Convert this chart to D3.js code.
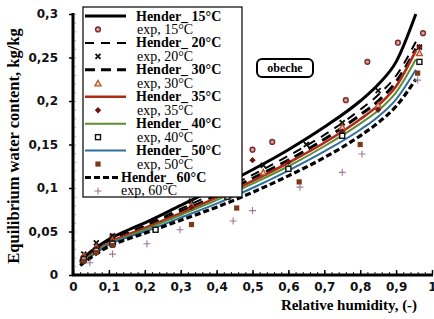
<!DOCTYPE html>
<html><head><meta charset="utf-8">
<script src="https://cdn.jsdelivr.net/npm/d3@7"></script>
<style>
html,body{margin:0;padding:0;background:#fff;}
svg{display:block;}
</style></head>
<body>
<svg id="chart" width="434" height="319"></svg>
<script>
// ---------- data ----------
const rhGrid = [0.02,0.05,0.1,0.15,0.2,0.3,0.4,0.5,0.6,0.7,0.8,0.85,0.9,0.955];
const hender15 = [0.016,0.027,0.041,0.051,0.060,0.080,0.100,0.121,0.144,0.170,0.200,0.219,0.245,0.300];
const hender20 = [0.015,0.025,0.039,0.048,0.057,0.076,0.095,0.115,0.137,0.161,0.190,0.207,0.229,0.268];
const hender30 = [0.014,0.024,0.038,0.047,0.055,0.073,0.091,0.111,0.132,0.156,0.184,0.200,0.222,0.260];
const hender35 = [0.014,0.023,0.037,0.046,0.054,0.071,0.089,0.108,0.129,0.152,0.179,0.195,0.217,0.258];
const hender40 = [0.013,0.022,0.036,0.044,0.052,0.069,0.086,0.105,0.125,0.148,0.174,0.189,0.210,0.248];
const hender50 = [0.012,0.021,0.035,0.043,0.050,0.066,0.082,0.100,0.120,0.142,0.167,0.182,0.202,0.236];
const hender60 = [0.011,0.020,0.033,0.041,0.048,0.063,0.078,0.095,0.114,0.135,0.160,0.175,0.194,0.225];

const exp15 = [[0.03,0.020],[0.065,0.030],[0.11,0.044],[0.43,0.125],[0.50,0.144],[0.555,0.153],[0.76,0.201],[0.82,0.245],[0.905,0.267],[0.975,0.278]];
const exp20 = [[0.03,0.024],[0.065,0.037],[0.11,0.045],[0.33,0.085],[0.53,0.126],[0.65,0.150],[0.75,0.175],[0.85,0.212],[0.965,0.262]];
const exp30 = [[0.03,0.022],[0.065,0.032],[0.11,0.040],[0.33,0.080],[0.53,0.118],[0.75,0.170],[0.85,0.195],[0.965,0.255]];
const exp35 = [[0.03,0.020],[0.065,0.030],[0.11,0.038],[0.33,0.078],[0.50,0.132],[0.60,0.130],[0.75,0.165],[0.85,0.190],[0.965,0.262]];
const exp40 = [[0.03,0.018],[0.065,0.028],[0.11,0.036],[0.23,0.052],[0.43,0.090],[0.60,0.122],[0.75,0.160],[0.965,0.245]];
const exp50 = [[0.03,0.016],[0.065,0.026],[0.11,0.034],[0.33,0.058],[0.456,0.077],[0.63,0.107],[0.80,0.150],[0.96,0.232]];
const exp60 = [[0.047,0.014],[0.11,0.024],[0.206,0.036],[0.298,0.052],[0.446,0.062],[0.50,0.074],[0.632,0.101],[0.75,0.118],[0.805,0.139],[0.96,0.224]];

const xTicks = [0,0.1,0.2,0.3,0.4,0.5,0.6,0.7,0.8,0.9,1];
const yTicks = [0,0.05,0.1,0.15,0.2,0.25,0.3];
const legendLabelsHender = ["Hender_ 15°C","Hender_ 20°C","Hender_ 30°C","Hender_ 35°C","Hender_ 40°C","Hender_ 50°C","Hender_ 60°C"];
const legendLabelsExp = ["exp, 15°C","exp, 20°C","exp, 30°C","exp, 35°C","exp, 40°C","exp, 50°C","exp, 60°C"];

// ---------- styles ----------
const SERIF = "'Liberation Serif','Times New Roman','DejaVu Serif',serif";
const lineStyles = [
  {color:"#000", width:3,   dash:null},
  {color:"#000", width:2,   dash:"9,7"},
  {color:"#000", width:3,   dash:"10,6"},
  {color:"#b02a18", width:2.6, dash:null},
  {color:"#5e8c31", width:2, dash:null},
  {color:"#2e6f9e", width:2, dash:null},
  {color:"#000", width:3.2, dash:"6,3"}
];
const hSeries = [hender15,hender20,hender30,hender35,hender40,hender50,hender60];
const eSeries = [exp15,exp20,exp30,exp35,exp40,exp50,exp60];

const svg = d3.select("#chart");
const x = d3.scaleLinear().domain([0,1]).range([73,432]);
const y = d3.scaleLinear().domain([0,0.3]).range([275,14]);
const fmt = d => d===0 ? "0" : String(+d.toFixed(2)).replace(".",",");

// minor ticks y
svg.append("g").attr("transform","translate(73,0)")
  .call(d3.axisRight(y).tickValues(d3.range(0,0.301,0.01)).tickSize(3).tickFormat(""))
  .call(g=>g.select(".domain").remove())
  .call(g=>g.selectAll("line").attr("stroke","#999").attr("stroke-width",1).attr("stroke-dasharray","1,1"));
// minor ticks x
svg.append("g").attr("transform","translate(0,275)")
  .call(d3.axisBottom(x).tickValues(d3.range(0,1.001,0.02)).tickSize(-3).tickFormat(""))
  .call(g=>g.select(".domain").remove())
  .call(g=>g.selectAll("line").attr("stroke","#222").attr("stroke-width",1));

// y axis
svg.append("g").attr("transform","translate(73,0)")
  .call(d3.axisLeft(y).tickValues(yTicks).tickSize(4).tickPadding(11).tickFormat(fmt))
  .call(g=>g.select(".domain").attr("stroke-width",3).attr("d","M0,13V276"))
  .call(g=>g.selectAll("line").attr("stroke-width",1.5))
  .call(g=>g.selectAll("text").attr("font-family","'DejaVu Sans',sans-serif").attr("font-weight","bold").attr("font-size",12).attr("fill","#111"));
// x axis
svg.append("g").attr("transform","translate(0,275)")
  .call(d3.axisBottom(x).tickValues(xTicks).tickSize(-5).tickPadding(7).tickFormat(fmt))
  .call(g=>g.select(".domain").attr("stroke-width",3).attr("d","M72,0H433"))
  .call(g=>g.selectAll("line").attr("stroke-width",1.5))
  .call(g=>g.selectAll("text").attr("font-family","'DejaVu Sans',sans-serif").attr("font-weight","bold").attr("font-size",12).attr("fill","#111"));

// axis titles
svg.append("text").attr("transform","translate(19,146) rotate(-90)").attr("text-anchor","middle")
  .attr("font-family",SERIF).attr("font-weight","bold").attr("font-size",16.5)
  .text("Equilibrium water content, kg/kg");
svg.append("text").attr("x",349).attr("y",310).attr("text-anchor","middle")
  .attr("font-family",SERIF).attr("font-weight","bold").attr("font-size",15)
  .text("Relative humidity, (-)");

// curves
const line = d3.line().x(d=>x(d[0])).y(d=>y(d[1])).curve(d3.curveMonotoneX);
hSeries.forEach((s,i)=>{
  const st = lineStyles[i];
  svg.append("path").datum(rhGrid.map((r,j)=>[r,s[j]]))
    .attr("d",line).attr("fill","none").attr("stroke",st.color).attr("stroke-width",st.width)
    .attr("stroke-dasharray",st.dash);
});

// markers
function marker(g, type, cx, cy){
  switch(type){
    case 0: g.append("circle").attr("cx",cx).attr("cy",cy).attr("r",2.4).attr("fill","#d7a3a0").attr("stroke","#7a2a2a").attr("stroke-width",1.4); break;
    case 1: g.append("path").attr("d",`M${cx-2.5},${cy-2.5}L${cx+2.5},${cy+2.5}M${cx-2.5},${cy+2.5}L${cx+2.5},${cy-2.5}`).attr("stroke","#111").attr("stroke-width",1.8); break;
    case 2: g.append("path").attr("d",`M${cx},${cy-3}L${cx+3},${cy+2.5}L${cx-3},${cy+2.5}Z`).attr("fill","#eed2b8").attr("stroke","#b5532a").attr("stroke-width",1.3); break;
    case 3: g.append("path").attr("d",`M${cx},${cy-3.2}L${cx+3.2},${cy}L${cx},${cy+3.2}L${cx-3.2},${cy}Z`).attr("fill","#6b1515"); break;
    case 4: g.append("rect").attr("x",cx-2.5).attr("y",cy-2.5).attr("width",5).attr("height",5).attr("fill","#fff").attr("stroke","#111").attr("stroke-width",1.4); break;
    case 5: g.append("rect").attr("x",cx-2.6).attr("y",cy-2.6).attr("width",5.2).attr("height",5.2).attr("fill","#7a3a1a"); break;
    case 6: g.append("path").attr("d",`M${cx-3.5},${cy}H${cx+3.5}M${cx},${cy-3.5}V${cy+3.5}`).attr("stroke","#9a7a9a").attr("stroke-width",1.1); break;
  }
}
const mg = svg.append("g");
eSeries.forEach((s,i)=> s.forEach(d=> marker(mg,i,x(d[0]),y(d[1]))));

// legend
const lg = svg.append("g");
lg.append("rect").attr("x",83).attr("y",7).attr("width",159).attr("height",190).attr("fill","#fff").attr("stroke","#000").attr("stroke-width",1.2);
const rowY = i => 16 + i*13.46;
for(let i=0;i<7;i++){
  const yl = rowY(2*i), ye = rowY(2*i+1);
  const st = lineStyles[i];
  const last = i===6;
  lg.append("line").attr("x1",85).attr("x2", last?119:126).attr("y1",yl).attr("y2",yl)
    .attr("stroke",st.color).attr("stroke-width",st.width).attr("stroke-dasharray",st.dash);
  lg.append("text").attr("x", last?121:136).attr("y",yl+4.5).attr("font-family",SERIF)
    .attr("font-weight","bold").attr("font-size",14).text(legendLabelsHender[i]);
  marker(lg,i,98,ye);
  lg.append("text").attr("x", last?121:137).attr("y",ye+4.5).attr("font-family",SERIF)
    .attr("font-size",14).text(legendLabelsExp[i]);
}

// obeche label
svg.append("rect").attr("x",257).attr("y",59).attr("width",56).attr("height",18).attr("rx",5)
  .attr("fill","#fff").attr("stroke","#000").attr("stroke-width",2);
svg.append("text").attr("x",285).attr("y",72).attr("text-anchor","middle")
  .attr("font-family",SERIF).attr("font-weight","bold").attr("font-size",12).text("obeche");
</script>
</body></html>
